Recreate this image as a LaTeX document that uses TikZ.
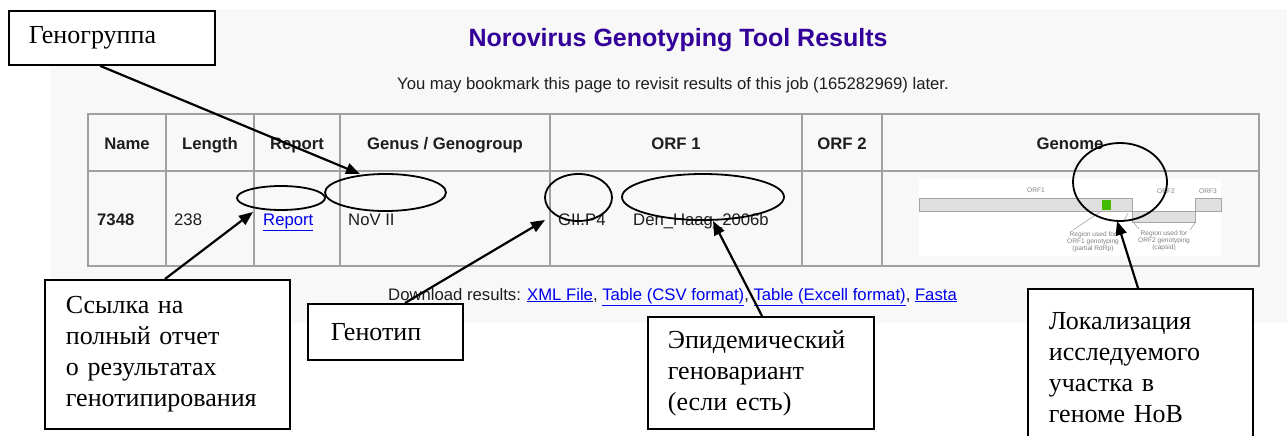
\documentclass[tikz,border=0pt]{standalone}
\usepackage{fontspec}
\setmainfont{Liberation Serif}
\newfontfamily\webfont{Liberation Sans}
\usetikzlibrary{arrows.meta,shapes.geometric,calc}
\definecolor{panelbg}{RGB}{248,248,248}
\definecolor{titleblue}{RGB}{51,0,153}
\definecolor{linkblue}{RGB}{0,0,238}
\definecolor{gridgray}{RGB}{160,160,160}
\definecolor{pagetext}{RGB}{30,30,30}
\definecolor{barfill}{RGB}{224,224,224}
\definecolor{barline}{RGB}{165,165,165}
\definecolor{regiongreen}{RGB}{68,187,0}
\begin{document}
\begin{tikzpicture}[x=1pt,y=-1pt,
  callout/.style={draw=black,line width=1.8pt,fill=white,anchor=north west,align=left,
    inner ysep=0pt,font=\fontsize{26}{31}\selectfont},
  ring/.style={ellipse,draw=black,line width=1.8pt,inner sep=0pt},
  pointer/.style={line width=2.2pt,-{Triangle[length=14pt,width=11pt]}},
  web/.style={font=\webfont\fontsize{16.7}{19}\selectfont,text=pagetext,inner sep=0pt},
  head/.style={font=\webfont\bfseries\fontsize{16.7}{19}\selectfont,text=pagetext,inner sep=0pt,anchor=base},
  cell/.style={web,anchor=base west},
  tinylabel/.style={font=\webfont\fontsize{6.6}{7}\selectfont,text=gray,inner sep=0pt,align=center},
  grid/.style={draw=gridgray,line width=1.5pt},
]
\useasboundingbox (0,0) rectangle (1287,436);

% web page panel
\fill[panelbg] (50,9) rectangle (1287,323);

\node[font=\webfont\bfseries\fontsize{25}{28}\selectfont,text=titleblue,inner sep=0pt,anchor=base] (title) at (678,47) {Norovirus Genotyping Tool Results};
\node[web,anchor=base] (bookmark) at (673,89.5) {You may bookmark this page to revisit results of this job (165282969) later.};

% results table
\draw[grid] (88,114) rectangle (1259,266);
\draw[grid] (88,171) -- (1259,171);
\foreach \cx in {166,254,340,550,802,882} \draw[grid] (\cx,114) -- (\cx,266);

\node[head] (hName) at (127,149) {Name};
\node[head] (hLength) at (210,149) {Length};
\node[head] (hReport) at (297,149) {Report};
\node[head] (hGenus) at (445,149) {Genus / Genogroup};
\node[head] (hOrfA) at (676,149) {ORF 1};
\node[head] (hOrfB) at (842,149) {ORF 2};
\node[head] (hGenome) at (1070,149) {Genome};

\node[cell,font=\webfont\bfseries\fontsize{16.7}{19}\selectfont] (cName) at (97,225) {7348};
\node[cell] (cLength) at (174,225) {238};
\node[cell,text=linkblue] (cReport) at (263,225) {\underline{Report}};
\node[cell] (cGenus) at (348,225) {NoV II};
\node[cell] (cType) at (558,225) {GII.P4};
\node[cell] (cVariant) at (633,225) {Den\_Haag\_2006b};

% genome map
\fill[white] (919,179) rectangle (1221,256);
\draw[barline,fill=barfill,line width=0.8pt] (919,198) rectangle (1132,211);
\draw[barline,fill=barfill,line width=0.8pt] (1132,211) rectangle (1195,222);
\draw[barline,fill=barfill,line width=0.8pt] (1195,198) rectangle (1221,211);
\fill[regiongreen] (1102,199.5) rectangle (1111,209.5);
\draw[barline,line width=0.6pt] (1100,212) -- (1073,230);
\draw[barline,line width=0.6pt] (1128,213) -- (1124,221);
\draw[barline,line width=0.6pt] (1133,222) -- (1139,229);
\draw[barline,line width=0.6pt] (1195,223) -- (1190,230);
\node[tinylabel] (orfA) at (1036,190) {ORF1};
\node[tinylabel] (orfB) at (1166,191) {ORF2};
\node[tinylabel] (orfC) at (1208,191) {ORF3};
\node[tinylabel] (regA) at (1093,242) {Region used for\\ORF1 genotyping\\(partial RdRp)};
\node[tinylabel] (regB) at (1164,241) {Region used for\\ORF2 genotyping\\(capsid)};

% download links
\node[web,anchor=base west] (download) at (388,300) {Download results: \textcolor{linkblue}{\underline{XML File}}, \textcolor{linkblue}{\underline{Table (CSV format)}}, \textcolor{linkblue}{\underline{Table (Excell format)}}, \textcolor{linkblue}{\underline{Fasta}}};

% highlighted fields
\node[ring,minimum width=88,minimum height=24] (ringReport) at (281,198) {};
\node[ring,minimum width=121,minimum height=37] (ringGenus) at (385.5,192.5) {};
\node[ring,minimum width=67,minimum height=47] (ringType) at (578.5,197.5) {};
\node[ring,minimum width=162,minimum height=46] (ringVariant) at (703,197) {};
\node[ring,minimum width=94,minimum height=78] (ringGenome) at (1120,182) {};

% callout boxes
\node[callout,minimum width=206,minimum height=54,text width=166,inner xsep=20] (boxGroup) at (8,10) {Геногруппа};
\node[callout,minimum width=245,minimum height=149,text width=203,inner xsep=21] (boxLink) at (44,279) {Ссылка на\\полный отчет\\о результатах\\генотипирования};
\node[callout,minimum width=155,minimum height=56,text width=109,inner xsep=23] (boxType) at (307,303) {Генотип};
\node[callout,minimum width=226,minimum height=112,text width=186,inner xsep=20] (boxVariant) at (647,316) {Эпидемический\\геновариант\\(если есть)};
\node[callout,minimum width=225,minimum height=157,text width=183,inner xsep=21] (boxGenome) at (1027,288) {Локализация\\исследуемого\\участка в\\геноме НоВ};

% arrow tips on the highlighted fields
\coordinate (tipGenus) at (360,174);
\coordinate (tipReport) at (253,212);
\coordinate (tipType) at (545,220);
\coordinate (tipVariant) at (713,221);
\coordinate (tipGenome) at (1117,221);

\draw[pointer] ($(boxGroup.south west)+(92,0)$) -- (tipGenus);
\draw[pointer] ($(boxLink.north west)+(121,0)$) -- (tipReport);
\draw[pointer] ($(boxType.north west)+(98,0)$) -- (tipType);
\draw[pointer] ($(boxVariant.north west)+(115,0)$) -- (tipVariant);
\draw[pointer] ($(boxGenome.north west)+(111,0)$) -- (tipGenome);
\end{tikzpicture}
\end{document}
